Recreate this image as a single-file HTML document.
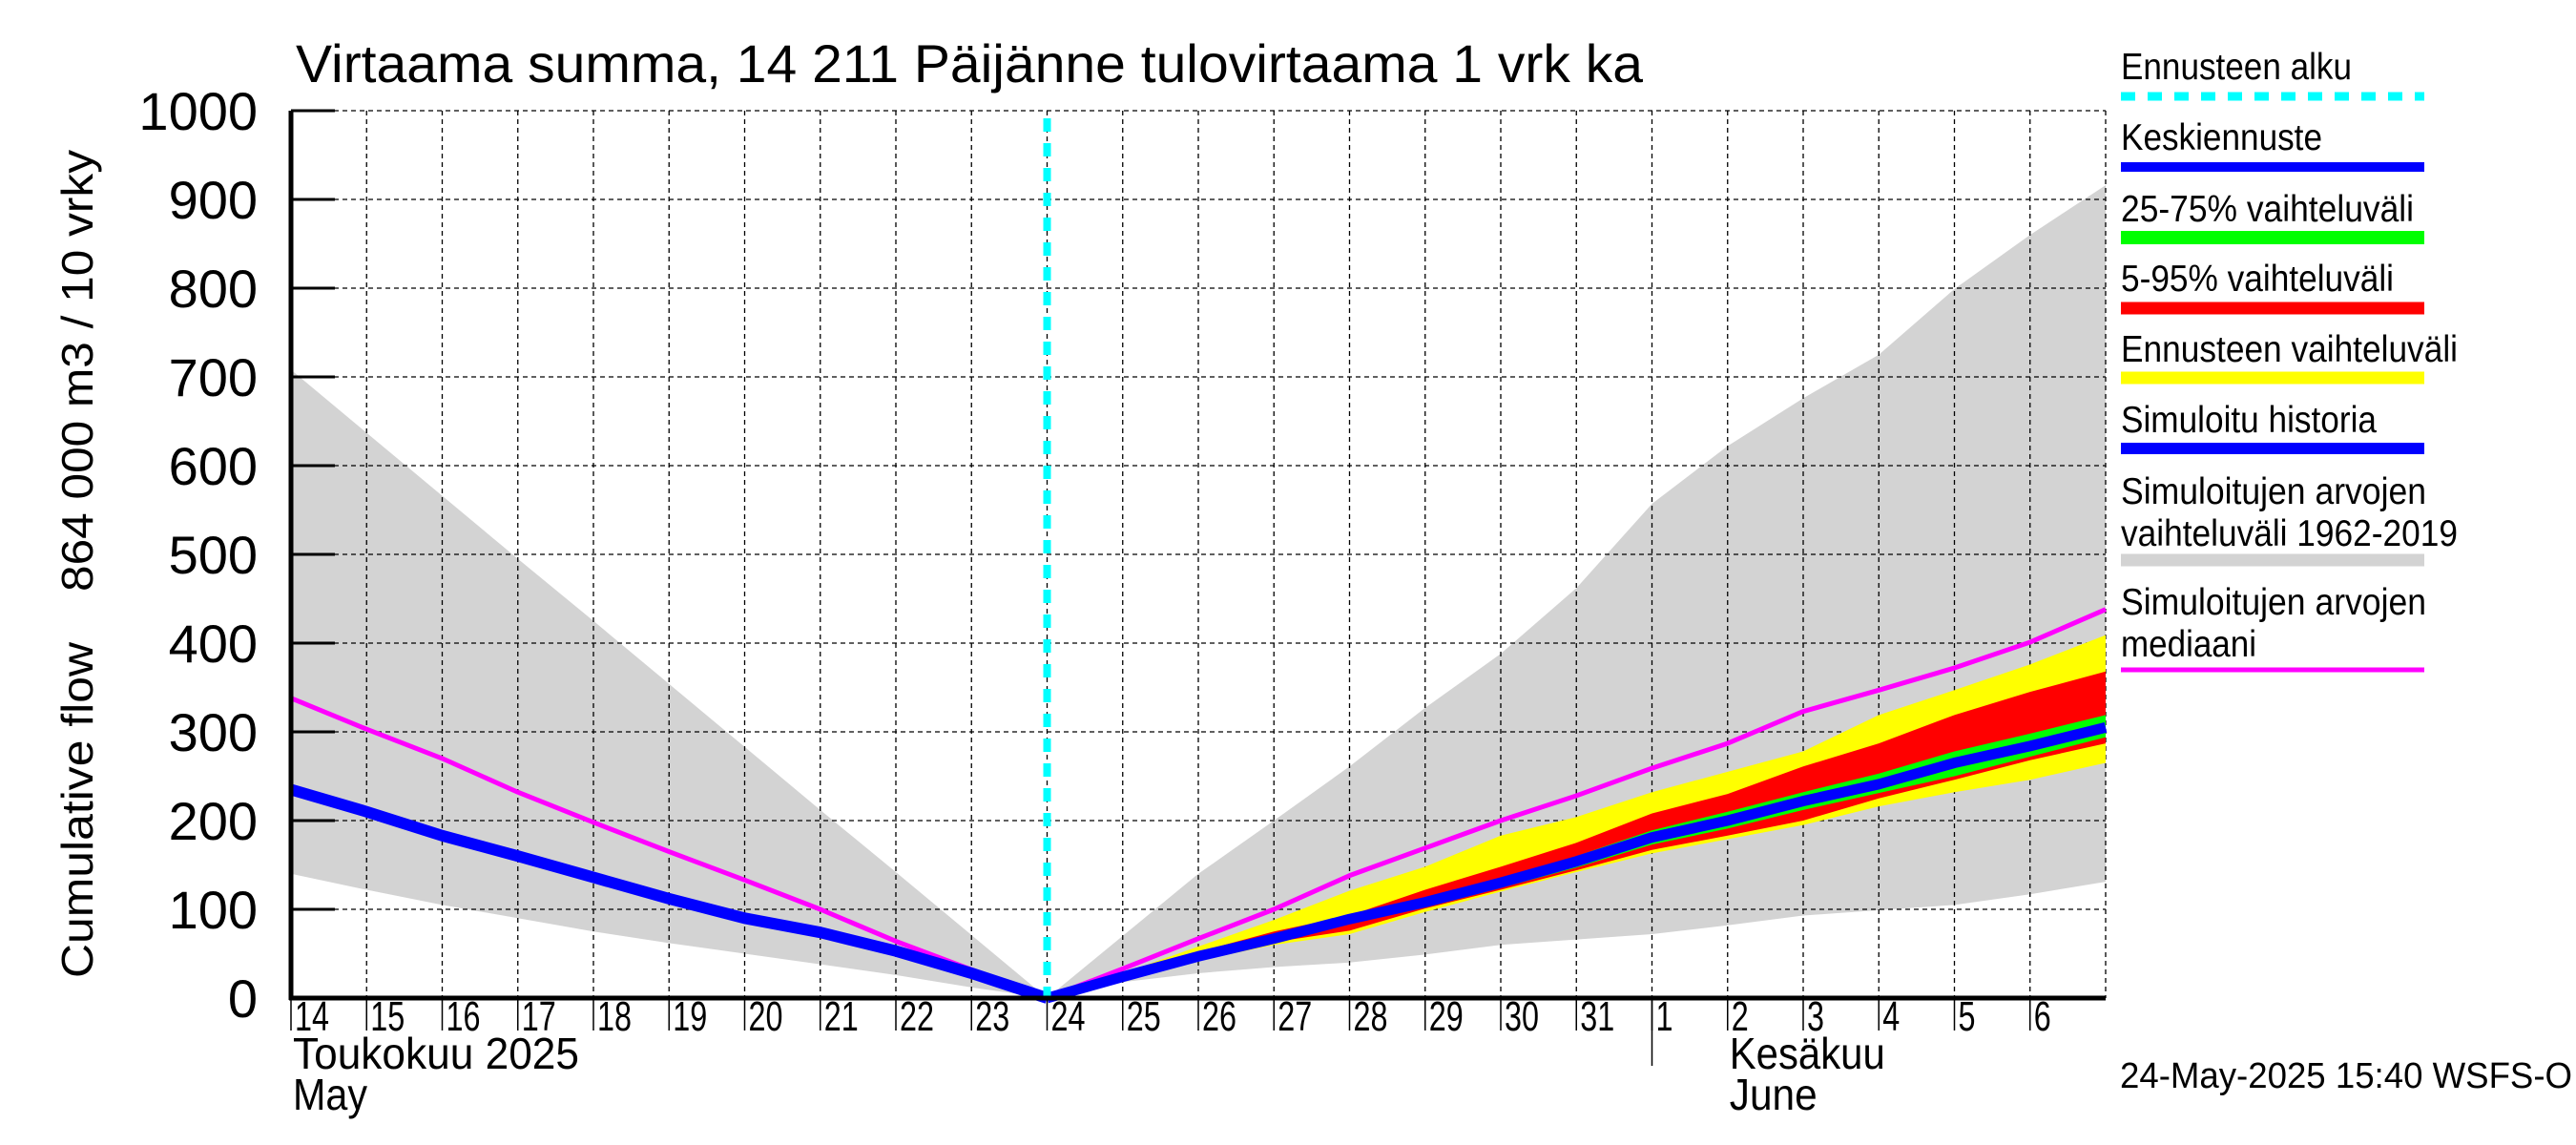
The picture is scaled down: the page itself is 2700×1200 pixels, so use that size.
<!DOCTYPE html>
<html><head><meta charset="utf-8"><style>
html,body{margin:0;padding:0;background:#fff}
svg{display:block;font-family:"Liberation Sans",sans-serif}
</style></head><body>
<svg id="chart" width="2700" height="1200" viewBox="0 0 2700 1200" xmlns="http://www.w3.org/2000/svg">
<rect width="2700" height="1200" fill="#fff"/>
<text x="310" y="86" font-size="56" textLength="1412" lengthAdjust="spacingAndGlyphs">Virtaama summa, 14 211 Päijänne tulovirtaama 1 vrk ka</text>
<text transform="translate(97,1025) rotate(-90)" font-size="46" textLength="352" lengthAdjust="spacingAndGlyphs">Cumulative flow</text>
<text transform="translate(97,620) rotate(-90)" font-size="46" textLength="463" lengthAdjust="spacingAndGlyphs">864 000 m3 / 10 vrky</text>
<g id="plot"></g>
<g id="legend"></g>
<text x="2222" y="1140" font-size="38" textLength="474" lengthAdjust="spacingAndGlyphs">24-May-2025 15:40 WSFS-O</text>
</svg>
<script>
// ---- data (day index 0 = 14 May) ----
const histDays = [0,1,2,3,4,5,6,7,8,9,10];
const histGrayHigh = [708,637,566,495,425,354,283,212,142,71,0];
const histGrayLow = [140,122,105,90,75,62,50,38,26,12,0];
const histSim = [235,210,183,160,136,112,90,74,53,28,0];
const histMedian = [338,303,270,232,198,165,133,100,64,32,0];
const fcDays = [10,11,12,13,14,15,16,17,18,19,20,21,22,23,24];
const fcGrayHigh = [0,70,140,200,261,327,388,462,557,622,676,725,799,860,916];
const fcGrayLow = [0,18,28,35,40,49,60,66,72,82,93,99,105,117,131];
const fcMedian = [0,33,67,100,138,169,200,228,259,287,323,347,372,401,438];
const fcMean = [0,24,47,67,89,108,130,154,181,200,222,241,265,284,305];
const fcYellowHigh = [0,28,58,88,121,148,183,204,232,255,278,319,347,376,409];
const fcYellowLow = [0,20,42,60,72,97,120,142,163,179,195,216,232,246,265];
const fcRedHigh = [0,27,52,75,93,122,148,175,208,230,261,287,319,345,368];
const fcRedLow = [0,22,45,63,76,101,122,144,167,183,200,225,246,268,287];
const fcGreenHigh = [0,26,50,71,94,113,135,160,189,210,232,253,278,298,319];
const fcGreenLow = [0,22,44,63,84,102,124,147,173,191,212,231,250,272,294];
const yTicks = [0,100,200,300,400,500,600,700,800,900,1000];
const dayLabels = ["14","15","16","17","18","19","20","21","22","23","24","25","26","27","28","29","30","31","1","2","3","4","5","6"];
const forecastDay = 10;

const X0=305, X1=2207, Y0=1046, Y1=116, NDAYS=24;
const xs = d => X0 + d*(X1-X0)/NDAYS;
const ys = v => Y0 - v*(Y0-Y1)/1000;
const NS="http://www.w3.org/2000/svg";
const plot=document.getElementById('plot');
function mk(tag,attrs,parent){const e=document.createElementNS(NS,tag);for(const k in attrs)e.setAttribute(k,attrs[k]);(parent||plot).appendChild(e);return e;}
function band(days,hi,lo,fill,name){
  let p=days.map((d,i)=>xs(d)+','+ys(hi[i]));
  let q=days.map((d,i)=>xs(d)+','+ys(lo[i])).reverse();
  const e=mk('polygon',{points:p.concat(q).join(' '),fill:fill});
  
  
}
function line(days,vals,color,w,name){
  const e=mk('polyline',{points:days.map((d,i)=>xs(d)+','+ys(vals[i])).join(' '),fill:'none',stroke:color,'stroke-width':w,'stroke-linejoin':'round'});
  
  
}
band(histDays,histGrayHigh,histGrayLow,'#d3d3d3','history-range-band');
band(fcDays,fcGrayHigh,fcGrayLow,'#d3d3d3','future-range-band');
// grid
for(let d=1;d<=NDAYS;d++){const g=mk('line',{x1:xs(d),x2:xs(d),y1:Y1,y2:Y0,stroke:'#000','stroke-width':1.3,'stroke-dasharray':'5,4'});}
yTicks.forEach(v=>{if(v>0){const g=mk('line',{x1:X0,x2:X1,y1:ys(v),y2:ys(v),stroke:'#000','stroke-width':1.3,'stroke-dasharray':'5,4'});}});
band(fcDays,fcYellowHigh,fcYellowLow,'#ffff00','forecast-range-band');
band(fcDays,fcRedHigh,fcRedLow,'#ff0000','band-5-95');
band(fcDays,fcGreenHigh,fcGreenLow,'#00ff00','band-25-75');
line(histDays,histMedian,'#ff00ff',5,'history-median-line');
line(fcDays,fcMedian,'#ff00ff',5,'forecast-median-line');
line(histDays,histSim,'#0000ff',12,'simulated-history-line');
line(fcDays,fcMean,'#0000ff',11,'mean-forecast-line');
// forecast start
const fl=mk('line',{x1:xs(forecastDay),x2:xs(forecastDay),y1:Y1+8,y2:Y0,stroke:'#00ffff','stroke-width':8,'stroke-dasharray':'14,12'});


// axes
const ax=mk('line',{x1:X0,x2:X0,y1:Y1,y2:Y0+2,stroke:'#000','stroke-width':5});


const bx=mk('line',{x1:X0-2,x2:X1,y1:Y0,y2:Y0,stroke:'#000','stroke-width':5});


yTicks.forEach(v=>{
  const t=mk('line',{x1:X0,x2:X0+46,y1:ys(v),y2:ys(v),stroke:'#000','stroke-width':3});
  
  
  const l=mk('text',{x:270,y:ys(v)+20,'font-size':56,'text-anchor':'end'});
  l.textContent=v;
  
  
});
dayLabels.forEach((s,i)=>{
  const t=mk('line',{x1:xs(i),x2:xs(i),y1:Y0,y2:Y0+34,stroke:'#000','stroke-width':1.5});
  
  
  const l=mk('text',{x:xs(i)+4,y:1080,'font-size':44,textLength:s.length*18,lengthAdjust:'spacingAndGlyphs'});
  l.textContent=s;
  
  
});
const sep=mk('line',{x1:xs(18),x2:xs(18),y1:Y0,y2:1117,stroke:'#000','stroke-width':1.5});


[['Toukokuu  2025',xs(0)+2,1120,300,'month-label-may-fi'],['May',xs(0)+2,1163,78,'month-label-may-en'],['Kesäkuu',xs(19)+2,1120,163,'month-label-june-fi'],['June',xs(19)+2,1163,92,'month-label-june-en']].forEach(a=>{
  const l=mk('text',{x:a[1],y:a[2],'font-size':46,textLength:a[3],lengthAdjust:'spacingAndGlyphs'});
  l.textContent=a[0];
  
  
});
// legend
const leg=document.getElementById('legend');
const items=[
 [['Ennusteen alku'],83,101,'#00ffff',9,true,'legend-forecast-start',[242]],
 [['Keskiennuste'],157,175,'#0000ff',10,false,'legend-mean-forecast',[211]],
 [['25-75% vaihteluväli'],232,249,'#00ff00',14,false,'legend-25-75',[307]],
 [['5-95% vaihteluväli'],305,323,'#ff0000',13,false,'legend-5-95',[286]],
 [['Ennusteen vaihteluväli'],379,396,'#ffff00',13,false,'legend-forecast-range',[353]],
 [['Simuloitu historia'],453,470,'#0000ff',12,false,'legend-simulated-history',[268]],
 [['Simuloitujen arvojen','vaihteluväli 1962-2019'],528,587,'#d3d3d3',13,false,'legend-historical-range',[320,353]],
 [['Simuloitujen arvojen','mediaani'],644,702,'#ff00ff',5,false,'legend-median',[320,142]]
];
items.forEach(it=>{
  const g=mk('g',{},leg);
  
  
  it[0].forEach((s,i)=>{const t=mk('text',{x:2223,y:it[1]+i*44,'font-size':39,textLength:it[7][i],lengthAdjust:'spacingAndGlyphs'},g);t.textContent=s;});
  const a={x1:2223,x2:2541,y1:it[2],y2:it[2],stroke:it[3],'stroke-width':it[4]};
  if(it[5])a['stroke-dasharray']='15,13';
  mk('line',a,g);
});
</script>
</body></html>
